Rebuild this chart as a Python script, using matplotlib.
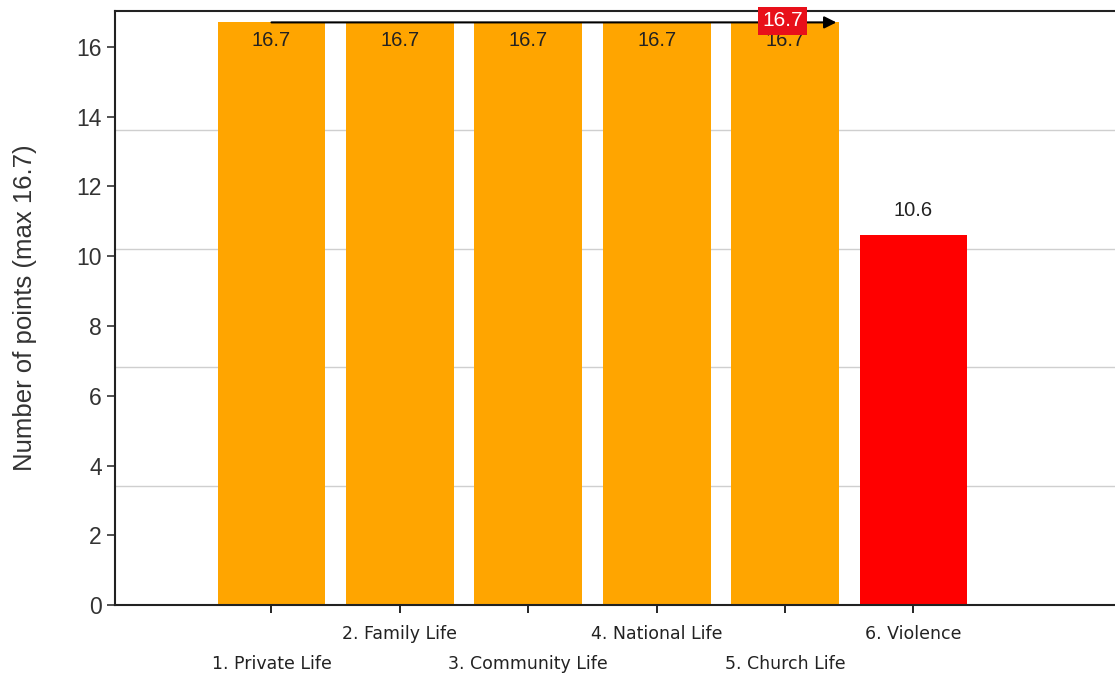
import numpy as np
import matplotlib.pyplot as plt
from matplotlib.ticker import FixedLocator

# Chart data
categories = ['1. Private Life', '2. Family Life', '3. Community Life',
              '4. National Life', '5. Church Life', '6. Violence']
points = [16.7, 16.7, 16.7, 16.7, 16.7, 10.6]
bar_colors = ['#FFA500', '#FFA500', '#FFA500', '#FFA500', '#FFA500', '#FF0000']
max_points = 16.7
y_ticks = [0, 2, 4, 6, 8, 10, 12, 14, 16]

plt.rcParams['font.family'] = ['Liberation Sans', 'DejaVu Sans']

fig = plt.figure(figsize=(11.15, 6.8), dpi=100)
ax = fig.add_axes([0.103, 0.110, 0.897, 0.874])

x = np.arange(len(categories))
ymax = 17.03
ax.set_xlim(-1.22, 6.57)
ax.set_ylim(0, ymax)

# odd gridlines (fifths of the axis height), drawn behind bars
ax.yaxis.set_minor_locator(FixedLocator(np.linspace(0, ymax, 6)[1:-1]))
ax.grid(which='minor', axis='y', color='#cfcfcf', linewidth=1)
ax.set_axisbelow(True)

ax.bar(x, points, width=0.84, color=bar_colors, zorder=2)

# value labels
for xi, v in zip(x, points):
    if v > ymax - 1:
        ax.annotate(f'{v:.1f}', (xi, v), xytext=(0, -13), textcoords='offset points',
                    ha='center', va='center', fontsize=14.5, color='#222222', zorder=4)
    else:
        ax.annotate(f'{v:.1f}', (xi, v), xytext=(0, 18), textcoords='offset points',
                    ha='center', va='center', fontsize=14.5, color='#222222', zorder=4)

# max marker arrow with red tag
ax.annotate('', xy=(4.4, max_points), xytext=(0, max_points),
            arrowprops=dict(arrowstyle='-|>', color='black', lw=1.5,
                            mutation_scale=18, shrinkA=0, shrinkB=0), zorder=5)
ax.text(3.98, max_points + 0.05, f'{max_points:.1f}', ha='center', va='center',
        fontsize=15, color='white', zorder=6,
        bbox=dict(boxstyle='square,pad=0.22', fc='#E8101A', ec='none'))

# axes styling
ax.set_yticks(y_ticks)
ax.tick_params(axis='y', which='major', labelsize=16.5, length=6, width=1.2, colors='#333333')
ax.tick_params(axis='y', which='minor', length=0)
ax.set_xticks(x)
ax.set_xticklabels([])
ax.tick_params(axis='x', length=6, width=1.2)
for xi, name in zip(x, categories):
    row_off = -42 if xi % 2 == 0 else -21
    ax.annotate(name, (xi, 0), xytext=(0, row_off), textcoords='offset points',
                ha='center', va='center', fontsize=12.5, color='#222222',
                family='DejaVu Sans', annotation_clip=False)

ax.set_ylabel('Number of points (max 16.7)', fontsize=18.5, color='#333333', labelpad=28)

for s in ['left', 'bottom', 'top']:
    ax.spines[s].set_linewidth(1.5)
    ax.spines[s].set_color('#222222')
ax.spines['right'].set_visible(False)

fig.savefig('out.png', dpi=100)
